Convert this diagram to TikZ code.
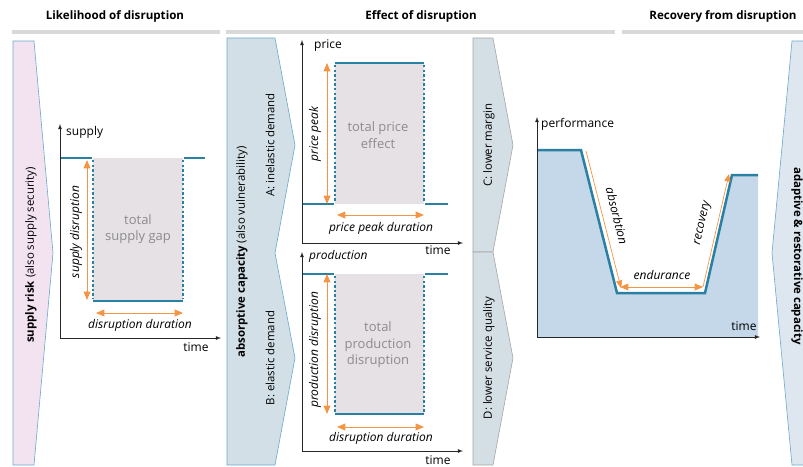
\documentclass[tikz,border=0pt]{standalone}
\usepackage{fontspec}
\setmainfont{Open Sans}
\usepackage{xcolor}
\usepackage{tikz}
\usetikzlibrary{positioning, arrows}

\definecolor{lineteal}{HTML}{2A80A2}
\definecolor{spanorange}{HTML}{F39545}
\definecolor{gapgrey}{HTML}{E6E1E4}
\definecolor{perfblue}{HTML}{C4D8E9}
\definecolor{chevblue}{HTML}{D2DFE7}
\definecolor{chevgrey}{HTML}{D3DEE5}
\definecolor{chevpink}{HTML}{F3E3F1}
\definecolor{chevlight}{HTML}{DEE7EF}
\definecolor{chevline}{HTML}{68A8CB}
\definecolor{barline}{HTML}{D9D9D9}

\tikzset{
	>=latex, % arrow heads of the axes
	axis/.style={->, line width=0.8pt, black!85}, % the axes of every chart
	level/.style={line width=2.5pt, lineteal}, % the supply, price, production and performance line
	drop/.style={line width=2.6pt, lineteal, dash pattern=on 2.4pt off 2.2pt}, % dotted sides of a gap
	gap/.style={fill=gapgrey, draw=none}, % the grey area of a gap
	span/.style={<->, >=triangle 45, line width=0.9pt, spanorange}, % orange measures
	spanup/.style={->, >=triangle 45, line width=0.7pt, spanorange},
	measure/.style={font=\fontsize{12}{14}\selectfont\itshape, inner sep=1pt}, % labels of the measures
	axislabel/.style={font=\fontsize{12}{14}\selectfont, inner sep=1pt},
	gaplabel/.style={font=\fontsize{13}{16.5}\selectfont, text=black!45, align=center},
	header/.style={font=\fontsize{11.6}{14}\selectfont\bfseries},
	headbar/.style={line width=4pt, barline},
	chevron/.style={line width=0.6pt},
	chevtext/.style={font=\fontsize{11.4}{13}\selectfont, inner sep=0pt},
}

\begin{document}
\begin{tikzpicture}[x=1pt, y=-1pt]
	\useasboundingbox (0,0) rectangle (803,466);

	% Headers
	\node[header] (likely) at (115,16) {Likelihood of disruption};
	\node[header] (effect) at (421,16) {Effect of disruption};
	\node[header] (recover) at (723,16) {Recovery from disruption};
	\draw[headbar] (12,32) -- (220,32);
	\draw[headbar] (226,32) -- (615,32);
	\draw[headbar] (622,32) -- (803,32);

	% Chevrons
	\draw[chevron, fill=chevpink, draw=chevline] (13,41) -- (34,41) -- (53,253) -- (34,465) -- (13,465) -- cycle;
	\draw[chevron, fill=chevblue, draw=chevline] (227,38) -- (275,38) -- (295,145) -- (275,253) -- (295,358) -- (275,465) -- (227,465) -- cycle;
	\draw[chevron, fill=chevgrey, draw=black!35] (473,38) -- (493,38) -- (513,145) -- (493,252) -- (473,252) -- cycle;
	\draw[chevron, fill=chevgrey, draw=black!35] (473,252) -- (493,252) -- (513,358) -- (493,465) -- (473,465) -- cycle;
	\draw[chevron, fill=chevlight, draw=chevline] (806,41) -- (792,41) -- (772,253) -- (792,465) -- (806,465);

	\node[chevtext, rotate=90] (risk) at (31,255) {\textbf{supply risk} (also supply security)};
	\node[chevtext, rotate=90] (absorb) at (242,252) {\textbf{absorptive capacity} (also vulnerability)};
	\node[chevtext, rotate=90] (inelastic) at (270,145) {A: inelastic demand};
	\node[chevtext, rotate=90] (elastic) at (270,358) {B: elastic demand};
	\node[chevtext, rotate=90] (margin) at (489,145) {C: lower margin};
	\node[chevtext, rotate=90] (service) at (489,358) {D: lower service quality};
	\node[chevtext, rotate=-90] (adapt) at (797,256) {\textbf{adaptive \& restorative capacity}};

	% Supply chart
	\coordinate (s0) at (60,338);
	\coordinate (sy) at (60,124);
	\coordinate (sx) at (221,338);
	\fill[gap] (93,158) rectangle (183,301);
	\draw[level] (60,158) -- (92,158);
	\draw[level] (93,301) -- (183,301);
	\draw[level] (184,158) -- (205,158);
	\draw[drop] (93,160) -- (93,299);
	\draw[drop] (183,160) -- (183,299);
	\draw[axis] (s0) -- (sy);
	\draw[axis] (s0) -- (sx);
	\node[axislabel, anchor=west] (supply) at (65,132) {supply};
	\node[axislabel] (stime) at (196,347) {time};
	\node[gaplabel] (supplygap) at (138,229) {total\\supply gap};
	\coordinate (sdtop) at (87,160);
	\coordinate (sdbot) at (87,300);
	\draw[span] (sdtop) -- (sdbot);
	\node[measure, rotate=90] (sdlabel) at (76,232) {supply disruption};
	\coordinate (sdl) at (96,313);
	\coordinate (sdr) at (183,313);
	\draw[span] (sdl) -- (sdr);
	\node[measure] (sdur) at (140,325) {disruption duration};

	% Price chart
	\coordinate (p0) at (302,243);
	\coordinate (py) at (302,40);
	\coordinate (px) at (463,243);
	\fill[gap] (335,63) rectangle (424,204);
	\draw[level] (302,204) -- (334,204);
	\draw[level] (335,63) -- (424,63);
	\draw[level] (425,204) -- (448,204);
	\draw[drop] (335,65) -- (335,202);
	\draw[drop] (424,65) -- (424,202);
	\draw[axis] (p0) -- (py);
	\draw[axis] (p0) -- (px);
	\node[axislabel, anchor=west] (price) at (313,46) {price};
	\node[axislabel] (ptime) at (438,250) {time};
	\node[gaplabel] (priceeffect) at (378,135) {total price\\effect};
	\coordinate (pptop) at (327,63);
	\coordinate (ppbot) at (327,204);
	\draw[span] (pptop) -- (ppbot);
	\node[measure, rotate=90] (pplabel) at (315,134) {price peak};
	\coordinate (ppl) at (337,215);
	\coordinate (ppr) at (424,215);
	\draw[span] (ppl) -- (ppr);
	\node[measure] (ppdur) at (381,228) {price peak duration};

	% Production chart
	\coordinate (q0) at (302,451);
	\coordinate (qy) at (302,252);
	\coordinate (qx) at (463,451);
	\fill[gap] (335,274) rectangle (424,414);
	\draw[level] (302,274) -- (334,274);
	\draw[level] (335,414) -- (424,414);
	\draw[level] (425,274) -- (448,274);
	\draw[drop] (335,276) -- (335,412);
	\draw[drop] (424,276) -- (424,412);
	\draw[axis] (q0) -- (qy);
	\draw[axis] (q0) -- (qx);
	\node[measure, anchor=west] (production) at (308,256) {production};
	\node[axislabel] (qtime) at (438,460) {time};
	\node[gaplabel] (proddisrupt) at (378,345) {total\\production\\disruption};
	\coordinate (pdtop) at (327,274);
	\coordinate (pdbot) at (327,414);
	\draw[span] (pdtop) -- (pdbot);
	\node[measure, rotate=90] (pdlabel) at (315,350) {production disruption};
	\coordinate (pdl) at (337,427);
	\coordinate (pdr) at (424,427);
	\draw[span] (pdl) -- (pdr);
	\node[measure] (pddur) at (381,438) {disruption duration};

	% Performance chart
	\coordinate (r0) at (537,337);
	\coordinate (ry) at (537,117);
	\coordinate (rx) at (760,337);
	\coordinate (fall) at (581,150);
	\coordinate (low) at (617,293);
	\coordinate (rise) at (705,293);
	\coordinate (high) at (732,175);
	\fill[perfblue] (537,150) -- (fall) -- (low) -- (rise) -- (high) -- (758,175) -- (758,337) -- (537,337) -- cycle;
	\draw[level, line join=miter] (537,150) -- (fall) -- (low) -- (rise) -- (high) -- (758,175);
	\draw[axis] (r0) -- (ry);
	\draw[axis] (r0) -- (rx);
	\node[axislabel, anchor=west] (performance) at (540,124) {performance};
	\node[axislabel] (rtime) at (744,326) {time};
	\coordinate (abtop) at (586,151);
	\coordinate (abbot) at (621,288);
	\draw[spanup] (abtop) -- (abbot);
	\node[measure, rotate=-76] (absorption) at (617,216) {absorbtion};
	\coordinate (enl) at (620,287);
	\coordinate (enr) at (703,287);
	\draw[span] (enl) -- (enr);
	\node[measure] (endurance) at (662,275) {endurance};
	\coordinate (rcbot) at (703,287);
	\coordinate (rctop) at (729,174);
	\draw[spanup] (rcbot) -- (rctop);
	\node[measure, rotate=77] (recovery) at (703,223) {recovery};
\end{tikzpicture}
\end{document}
